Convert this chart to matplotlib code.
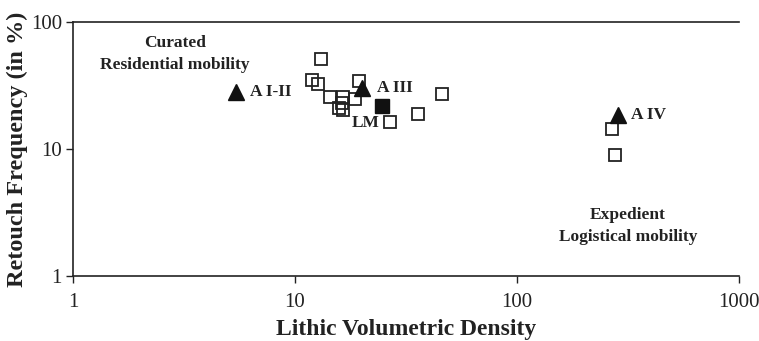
import matplotlib.pyplot as plt

# open squares: other assemblages
sites_x = [13.1, 11.9, 12.7, 14.4, 16.4, 18.6, 16.3, 15.8, 16.4, 19.4, 26.8, 35.9, 45.9, 268, 275]
sites_y = [51.1, 34.9, 32.5, 25.8, 25.5, 24.6, 23.2, 20.9, 20.3, 34.3, 16.4, 18.9, 27.0, 14.5, 9.0]

# filled triangles: levels
levels = ["A I-II", "A III", "A IV"]
levels_x = [5.42, 20.0, 285]
levels_y = [28.1, 30.4, 18.5]

# filled square: LM
lm_x = [24.7]
lm_y = [21.9]

x_ticks = [1, 10, 100, 1000]
y_ticks = [1, 10, 100]


def plot_chart():
    plt.rcParams["font.family"] = ["Liberation Serif", "DejaVu Serif"]
    fig = plt.figure(figsize=(7.59, 3.41), dpi=100)
    ax = fig.add_axes([0.0962, 0.1906, 0.8774, 0.7449])

    ax.plot(sites_x, sites_y, linestyle="none", marker="s", markersize=8.6,
            markerfacecolor="none", markeredgecolor="#222222", markeredgewidth=1.3)
    ax.plot(levels_x, levels_y, linestyle="none", marker="^", markersize=11,
            color="#111111")
    ax.plot(lm_x, lm_y, linestyle="none", marker="s", markersize=9.5,
            color="#111111")

    bold = dict(fontsize=12.5, fontweight="bold", color="#222222")
    ax.text(levels_x[0] * 1.16, levels_y[0], levels[0], ha="left", va="center", **bold)
    ax.text(levels_x[1] * 1.17, levels_y[1], levels[1], ha="left", va="center", **bold)
    ax.text(levels_x[2] * 1.15, levels_y[2], levels[2], ha="left", va="center", **bold)
    ax.text(lm_x[0] * 0.97, 16.0, "LM", ha="right", va="center", **bold)

    ax.text(2.88, 68, "Curated", ha="center", va="center", **bold)
    ax.text(2.88, 46, "Residential mobility", ha="center", va="center", **bold)
    ax.text(316, 3.0, "Expedient", ha="center", va="center", **bold)
    ax.text(316, 2.03, "Logistical mobility", ha="center", va="center", **bold)

    ax.set_xscale("log")
    ax.set_yscale("log")
    ax.set_xlim(1, 1000)
    ax.set_ylim(1, 100)
    ax.set_xticks(x_ticks)
    ax.set_xticklabels([str(t) for t in x_ticks])
    ax.set_yticks(y_ticks)
    ax.set_yticklabels([str(t) for t in y_ticks])
    ax.minorticks_off()
    ax.tick_params(axis="both", direction="out", length=5, width=1,
                   labelsize=15, colors="#222222")
    ax.tick_params(axis="x", pad=7)
    ax.tick_params(axis="y", pad=3)

    ax.spines["right"].set_visible(False)
    for side in ["left", "bottom", "top"]:
        ax.spines[side].set_linewidth(1.2)
        ax.spines[side].set_color("#222222")

    ax.set_xlabel("Lithic Volumetric Density", fontsize=17, fontweight="bold",
                  color="#222222", labelpad=5)
    ax.set_ylabel("Retouch Frequency (in %)", fontsize=17.5, fontweight="bold",
                  color="#222222", labelpad=2)

    fig.savefig("out.png", dpi=100)


if __name__ == "__main__":
    plot_chart()
